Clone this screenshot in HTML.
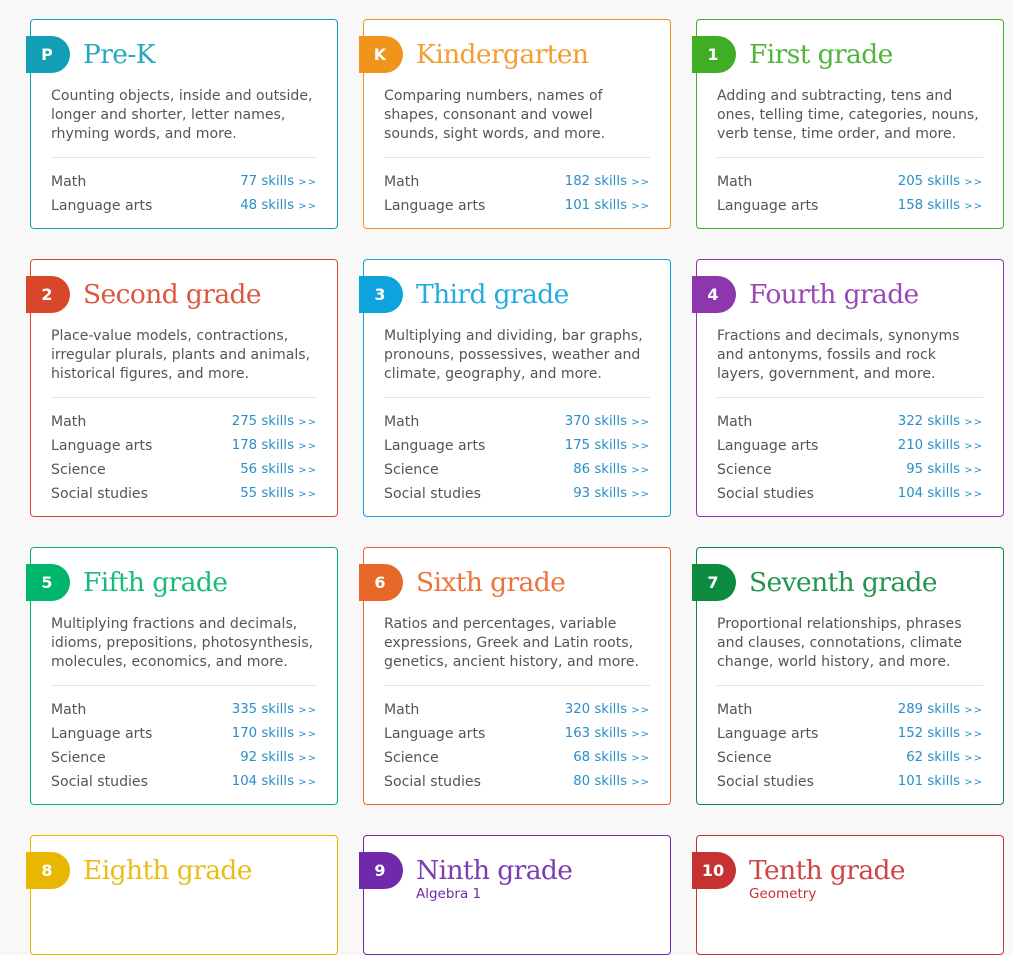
<!DOCTYPE html>
<html><head><meta charset="utf-8"><style>
body{margin:0;background:#f8f8f8;width:1013px;height:911px;overflow:hidden;position:relative;font-family:"DejaVu Sans",Verdana,sans-serif}
.c{position:absolute;width:306px;background:#fff;border:1px solid;border-radius:4px;box-sizing:content-box}
.b{position:absolute;left:-5px;top:16px;width:44px;height:37px;border-radius:0 19px 19px 0;color:#fff;font:bold 16px "DejaVu Sans",sans-serif;line-height:37px;text-align:center;box-sizing:border-box;padding-right:2px}
.t{position:absolute;left:52px;top:16px;font:26.5px "DejaVu Serif","Liberation Serif",serif;letter-spacing:-0.6px;white-space:nowrap;line-height:38px;opacity:.9}
.s{position:absolute;left:52px;top:50px;font-size:13.5px;line-height:16px}
.d{position:absolute;left:20px;top:67px;width:290px;font-size:14.1px;line-height:19px;color:#555;white-space:nowrap}
.hr{position:absolute;left:20px;top:137px;width:266px;border-top:1px solid #e2e2e2}
.r{position:absolute;left:20px;width:266px;font-size:14.1px;color:#555;line-height:20px}
.r span{position:absolute;right:0;top:0;color:#2a8ec6;font-size:13.3px}
.r span i{font-style:normal;font-size:10px;letter-spacing:1px}
</style></head><body>
<script>
const cards=[
["P","Pre-K","#129fb6",30,19,210,"Counting objects, inside and outside,|longer and shorter, letter names,|rhyming words, and more.",[["Math",77],["Language arts",48]]],
["K","Kindergarten","#f0941c",363,19,210,"Comparing numbers, names of|shapes, consonant and vowel|sounds, sight words, and more.",[["Math",182],["Language arts",101]]],
["1","First grade","#40ae25",696,19,210,"Adding and subtracting, tens and|ones, telling time, categories, nouns,|verb tense, time order, and more.",[["Math",205],["Language arts",158]]],
["2","Second grade","#d8472a",30,259,258,"Place-value models, contractions,|irregular plurals, plants and animals,|historical figures, and more.",[["Math",275],["Language arts",178],["Science",56],["Social studies",55]]],
["3","Third grade","#0ea3dc",363,259,258,"Multiplying and dividing, bar graphs,|pronouns, possessives, weather and|climate, geography, and more.",[["Math",370],["Language arts",175],["Science",86],["Social studies",93]]],
["4","Fourth grade","#8d36ae",696,259,258,"Fractions and decimals, synonyms|and antonyms, fossils and rock|layers, government, and more.",[["Math",322],["Language arts",210],["Science",95],["Social studies",104]]],
["5","Fifth grade","#00b56c",30,547,258,"Multiplying fractions and decimals,|idioms, prepositions, photosynthesis,|molecules, economics, and more.",[["Math",335],["Language arts",170],["Science",92],["Social studies",104]]],
["6","Sixth grade","#e8682a",363,547,258,"Ratios and percentages, variable|expressions, Greek and Latin roots,|genetics, ancient history, and more.",[["Math",320],["Language arts",163],["Science",68],["Social studies",80]]],
["7","Seventh grade","#0c8a3f",696,547,258,"Proportional relationships, phrases|and clauses, connotations, climate|change, world history, and more.",[["Math",289],["Language arts",152],["Science",62],["Social studies",101]]],
["8","Eighth grade","#e8b700",30,835,120,"",[]],
["9","Ninth grade","#7029a8",363,835,120,"",[],"Algebra 1"],
["10","Tenth grade","#c83131",696,835,120,"",[],"Geometry"]];
let h="";
for(const c of cards){
 let [b,t,col,x,y,ht,d,rows,sub]=c;
 h+=`<div class="c" style="left:${x}px;top:${y}px;height:${ht-2}px;border-color:${col}">`;
 h+=`<div class="b" style="background:${col}">${b}</div><div class="t" style="color:${col}">${t}</div>`;
 if(sub)h+=`<div class="s" style="color:${col}">${sub}</div>`;
 if(d){h+=`<div class="d">${d.split("|").join("<br>")}</div><div class="hr"></div>`;
 rows.forEach((r,i)=>{h+=`<div class="r" style="top:${152+24*i}px">${r[0]}<span>${r[1]} skills <i>&gt;&gt;</i></span></div>`;});}
 h+=`</div>`;
}
document.body.innerHTML=h;
</script>
</body></html>
